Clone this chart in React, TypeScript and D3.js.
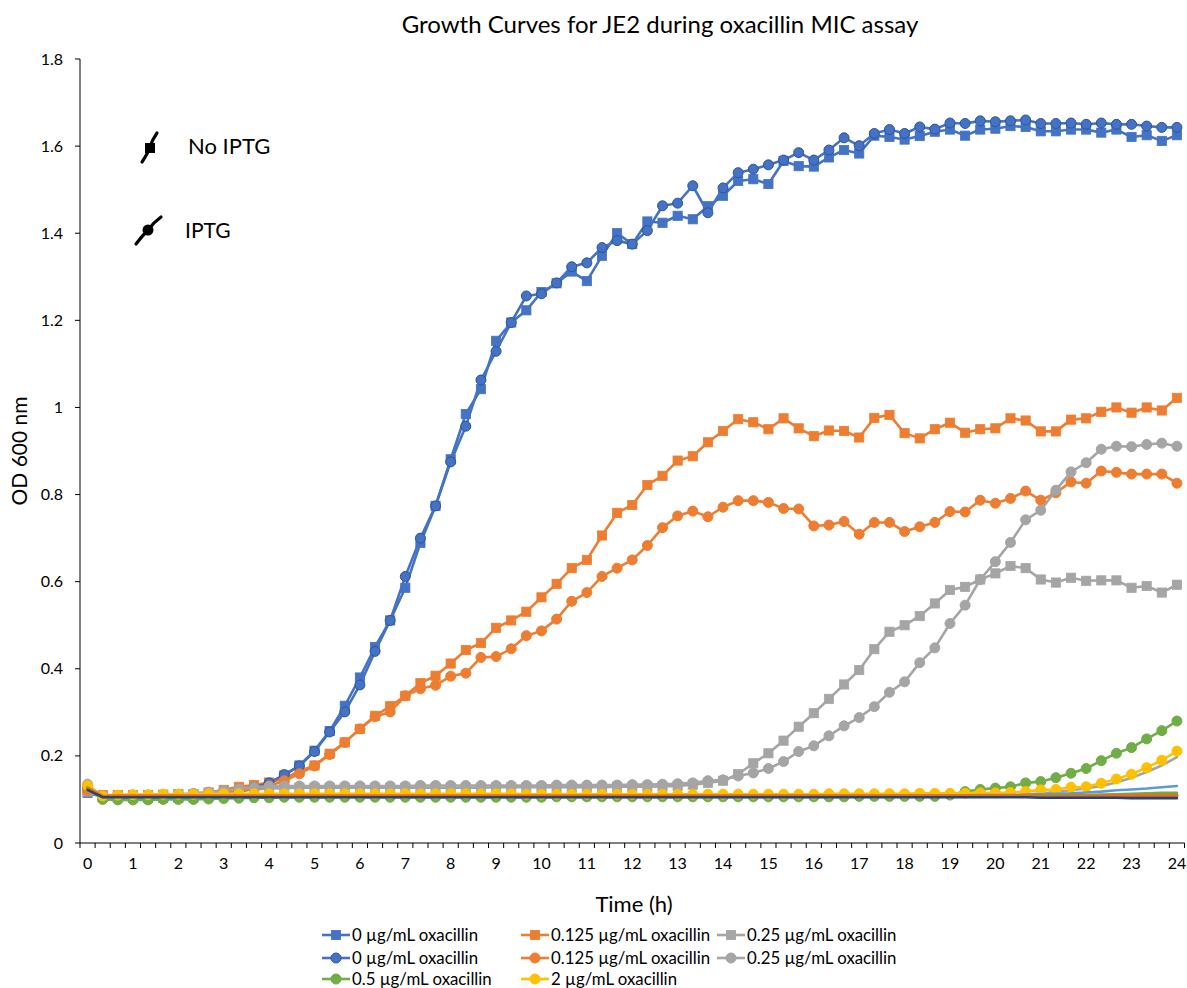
import React from 'react';
import * as d3 from 'd3';

// Time categories in minutes (one reading every 20 minutes, 0–24 h)
const TIME_MIN: number[] = d3.range(0, 1441, 20);
const X_TICK_LABELS = ['0','1','2','3','4','5','6','7','8','9','10','11','12','13','14','15','16','17','18','19','20','21','22','23','24'];
const Y_TICKS = [0, 0.2, 0.4, 0.6, 0.8, 1, 1.2, 1.4, 1.6, 1.8];

// 0 µg/mL, no IPTG (squares)
const BLUE_SQ = [
  0.115, 0.106, 0.105, 0.105, 0.104, 0.104, 0.104, 0.105, 0.107, 0.110,
  0.117, 0.126, 0.136, 0.155, 0.178, 0.212, 0.257, 0.315, 0.380, 0.450,
  0.511, 0.586, 0.689, 0.774, 0.881, 0.985, 1.042, 1.153, 1.195, 1.223,
  1.265, 1.285, 1.312, 1.290, 1.348, 1.400, 1.375, 1.427, 1.424, 1.440,
  1.432, 1.462, 1.486, 1.520, 1.524, 1.513, 1.566, 1.554, 1.553, 1.574,
  1.591, 1.583, 1.624, 1.621, 1.615, 1.623, 1.633, 1.638, 1.624, 1.638,
  1.640, 1.646, 1.644, 1.634, 1.634, 1.638, 1.638, 1.631, 1.638, 1.621,
  1.625, 1.612, 1.625,
];
// 0.125 µg/mL, no IPTG
const ORANGE_SQ = [
  0.120, 0.110, 0.110, 0.110, 0.110, 0.111, 0.112, 0.112, 0.116, 0.122,
  0.129, 0.133, 0.139, 0.148, 0.165, 0.178, 0.205, 0.231, 0.262, 0.292,
  0.314, 0.338, 0.367, 0.384, 0.412, 0.443, 0.459, 0.494, 0.511, 0.531,
  0.564, 0.595, 0.631, 0.650, 0.706, 0.758, 0.776, 0.822, 0.843, 0.878,
  0.888, 0.920, 0.946, 0.973, 0.966, 0.950, 0.975, 0.952, 0.934, 0.947,
  0.946, 0.931, 0.976, 0.983, 0.941, 0.929, 0.950, 0.965, 0.942, 0.950,
  0.952, 0.975, 0.970, 0.945, 0.945, 0.972, 0.975, 0.990, 1.000, 0.988,
  1.000, 0.993, 1.022,
];
// 0.25 µg/mL, no IPTG
const GRAY_SQ = [
  0.118, 0.106, 0.107, 0.108, 0.109, 0.110, 0.111, 0.112, 0.114, 0.117,
  0.120, 0.123, 0.125, 0.126, 0.127, 0.127, 0.127, 0.127, 0.127, 0.127,
  0.127, 0.127, 0.127, 0.127, 0.127, 0.127, 0.127, 0.128, 0.128, 0.128,
  0.128, 0.128, 0.128, 0.128, 0.128, 0.129, 0.129, 0.129, 0.130, 0.131,
  0.134, 0.138, 0.143, 0.158, 0.183, 0.206, 0.235, 0.267, 0.298, 0.331,
  0.364, 0.397, 0.445, 0.485, 0.500, 0.521, 0.550, 0.581, 0.588, 0.605,
  0.619, 0.636, 0.631, 0.605, 0.598, 0.609, 0.602, 0.603, 0.603, 0.586,
  0.590, 0.575, 0.593,
];
// 0 µg/mL, IPTG (circles)
const BLUE_CI = [
  0.128, 0.106, 0.104, 0.104, 0.104, 0.104, 0.105, 0.106, 0.108, 0.111,
  0.118, 0.128, 0.138, 0.157, 0.177, 0.210, 0.255, 0.301, 0.363, 0.440,
  0.511, 0.612, 0.700, 0.774, 0.875, 0.957, 1.063, 1.129, 1.195, 1.256,
  1.261, 1.286, 1.323, 1.332, 1.367, 1.383, 1.375, 1.406, 1.463, 1.469,
  1.509, 1.447, 1.504, 1.539, 1.547, 1.557, 1.568, 1.585, 1.568, 1.591,
  1.619, 1.601, 1.629, 1.638, 1.629, 1.644, 1.639, 1.653, 1.652, 1.658,
  1.656, 1.658, 1.660, 1.652, 1.652, 1.653, 1.650, 1.653, 1.650, 1.650,
  1.646, 1.643, 1.643,
];
// 0.125 µg/mL, IPTG
const ORANGE_CI = [
  0.120, 0.106, 0.107, 0.107, 0.107, 0.107, 0.108, 0.108, 0.110, 0.114,
  0.119, 0.124, 0.131, 0.143, 0.159, 0.177, 0.203, 0.231, 0.262, 0.290,
  0.301, 0.338, 0.354, 0.362, 0.383, 0.390, 0.426, 0.428, 0.446, 0.476,
  0.487, 0.514, 0.555, 0.575, 0.612, 0.631, 0.650, 0.683, 0.724, 0.751,
  0.762, 0.749, 0.771, 0.786, 0.786, 0.782, 0.768, 0.767, 0.728, 0.730,
  0.738, 0.709, 0.736, 0.736, 0.715, 0.726, 0.736, 0.761, 0.760, 0.787,
  0.780, 0.791, 0.808, 0.787, 0.804, 0.829, 0.826, 0.854, 0.851, 0.847,
  0.847, 0.847, 0.826,
];
// 0.25 µg/mL, IPTG
const GRAY_CI = [
  0.135, 0.105, 0.106, 0.107, 0.108, 0.110, 0.112, 0.114, 0.117, 0.120,
  0.124, 0.128, 0.130, 0.131, 0.131, 0.131, 0.131, 0.131, 0.131, 0.131,
  0.131, 0.131, 0.132, 0.132, 0.132, 0.132, 0.132, 0.132, 0.132, 0.132,
  0.132, 0.133, 0.133, 0.133, 0.133, 0.133, 0.134, 0.134, 0.135, 0.136,
  0.138, 0.143, 0.145, 0.154, 0.161, 0.171, 0.187, 0.210, 0.223, 0.246,
  0.269, 0.288, 0.313, 0.346, 0.370, 0.414, 0.448, 0.504, 0.546, 0.605,
  0.646, 0.690, 0.742, 0.764, 0.810, 0.852, 0.873, 0.904, 0.911, 0.910,
  0.915, 0.918, 0.911,
];
// 0.5 µg/mL, IPTG
const GREEN_CI = [
  0.130, 0.100, 0.099, 0.099, 0.099, 0.100, 0.100, 0.100, 0.101, 0.102,
  0.103, 0.104, 0.104, 0.105, 0.105, 0.105, 0.105, 0.105, 0.105, 0.105,
  0.105, 0.105, 0.105, 0.105, 0.105, 0.105, 0.105, 0.105, 0.105, 0.105,
  0.105, 0.106, 0.106, 0.106, 0.106, 0.106, 0.106, 0.106, 0.106, 0.106,
  0.106, 0.106, 0.106, 0.106, 0.106, 0.106, 0.106, 0.106, 0.106, 0.106,
  0.106, 0.107, 0.107, 0.107, 0.107, 0.107, 0.107, 0.110, 0.118, 0.123,
  0.126, 0.129, 0.138, 0.141, 0.150, 0.160, 0.171, 0.189, 0.206, 0.219,
  0.239, 0.258, 0.280,
];
// 2 µg/mL, IPTG
const YELLOW_CI = [
  0.132, 0.108, 0.110, 0.111, 0.111, 0.112, 0.112, 0.112, 0.113, 0.113,
  0.113, 0.113, 0.113, 0.113, 0.113, 0.113, 0.113, 0.113, 0.113, 0.113,
  0.113, 0.113, 0.113, 0.113, 0.113, 0.113, 0.113, 0.113, 0.113, 0.112,
  0.112, 0.112, 0.112, 0.112, 0.112, 0.112, 0.112, 0.112, 0.112, 0.112,
  0.112, 0.112, 0.112, 0.112, 0.112, 0.112, 0.112, 0.112, 0.112, 0.113,
  0.113, 0.113, 0.113, 0.113, 0.113, 0.114, 0.114, 0.114, 0.114, 0.115,
  0.115, 0.116, 0.118, 0.122, 0.123, 0.128, 0.129, 0.137, 0.147, 0.158,
  0.173, 0.190, 0.211,
];
// Series without markers (legend entries removed in the original)
const GRAY_LINE = [
  0.127, 0.106, 0.106, 0.106, 0.106, 0.106, 0.106, 0.106, 0.106, 0.106,
  0.106, 0.106, 0.106, 0.106, 0.106, 0.106, 0.106, 0.106, 0.106, 0.106,
  0.106, 0.106, 0.106, 0.106, 0.106, 0.106, 0.106, 0.106, 0.106, 0.106,
  0.106, 0.106, 0.106, 0.106, 0.106, 0.106, 0.106, 0.106, 0.106, 0.106,
  0.107, 0.107, 0.107, 0.107, 0.107, 0.107, 0.107, 0.107, 0.107, 0.107,
  0.107, 0.107, 0.107, 0.107, 0.107, 0.107, 0.107, 0.107, 0.107, 0.108,
  0.108, 0.109, 0.111, 0.114, 0.117, 0.121, 0.125, 0.131, 0.139, 0.150,
  0.163, 0.178, 0.197,
];
const LIGHTBLUE_LINE = [
  0.125, 0.106, 0.107, 0.107, 0.107, 0.107, 0.107, 0.107, 0.107, 0.107,
  0.107, 0.107, 0.107, 0.107, 0.107, 0.107, 0.107, 0.107, 0.107, 0.107,
  0.107, 0.107, 0.107, 0.107, 0.107, 0.107, 0.107, 0.107, 0.107, 0.107,
  0.107, 0.107, 0.107, 0.107, 0.107, 0.107, 0.107, 0.107, 0.107, 0.107,
  0.108, 0.108, 0.108, 0.108, 0.108, 0.108, 0.108, 0.108, 0.108, 0.108,
  0.108, 0.108, 0.108, 0.108, 0.109, 0.109, 0.109, 0.109, 0.109, 0.110,
  0.110, 0.110, 0.111, 0.112, 0.113, 0.114, 0.116, 0.118, 0.121, 0.123,
  0.125, 0.128, 0.131,
];
const GREEN_LINE = [
  0.128, 0.106, 0.107, 0.107, 0.107, 0.107, 0.107, 0.107, 0.107, 0.107,
  0.107, 0.107, 0.107, 0.107, 0.107, 0.107, 0.107, 0.107, 0.107, 0.107,
  0.107, 0.107, 0.107, 0.107, 0.107, 0.107, 0.107, 0.107, 0.107, 0.107,
  0.107, 0.107, 0.107, 0.107, 0.107, 0.107, 0.107, 0.107, 0.107, 0.107,
  0.108, 0.108, 0.108, 0.108, 0.108, 0.108, 0.108, 0.108, 0.108, 0.108,
  0.108, 0.108, 0.108, 0.108, 0.108, 0.108, 0.108, 0.108, 0.108, 0.108,
  0.109, 0.109, 0.109, 0.109, 0.109, 0.110, 0.110, 0.111, 0.112, 0.113,
  0.114, 0.115, 0.115,
];
const ORANGE_LINE = [
  0.125, 0.107, 0.108, 0.108, 0.108, 0.108, 0.108, 0.108, 0.108, 0.108,
  0.108, 0.108, 0.108, 0.108, 0.108, 0.108, 0.108, 0.108, 0.108, 0.108,
  0.108, 0.108, 0.108, 0.108, 0.108, 0.108, 0.108, 0.108, 0.108, 0.108,
  0.108, 0.108, 0.108, 0.108, 0.108, 0.108, 0.108, 0.108, 0.108, 0.108,
  0.108, 0.108, 0.108, 0.108, 0.108, 0.108, 0.108, 0.108, 0.108, 0.108,
  0.108, 0.108, 0.108, 0.108, 0.108, 0.108, 0.108, 0.108, 0.108, 0.108,
  0.108, 0.108, 0.108, 0.107, 0.107, 0.108, 0.108, 0.108, 0.109, 0.109,
  0.109, 0.109, 0.109,
];
const DARKBLUE_LINE = [
  0.122, 0.105, 0.105, 0.105, 0.105, 0.105, 0.105, 0.105, 0.105, 0.105,
  0.105, 0.105, 0.105, 0.105, 0.105, 0.105, 0.105, 0.105, 0.105, 0.105,
  0.105, 0.105, 0.105, 0.105, 0.105, 0.105, 0.105, 0.105, 0.105, 0.105,
  0.105, 0.105, 0.105, 0.105, 0.105, 0.105, 0.105, 0.105, 0.105, 0.105,
  0.105, 0.105, 0.105, 0.105, 0.105, 0.105, 0.105, 0.105, 0.105, 0.105,
  0.105, 0.105, 0.105, 0.105, 0.105, 0.105, 0.105, 0.105, 0.105, 0.105,
  0.105, 0.105, 0.105, 0.104, 0.104, 0.104, 0.104, 0.104, 0.104, 0.103,
  0.103, 0.103, 0.103,
];

const LEGEND_LABELS = [
  '0 µg/mL oxacillin', '0.125 µg/mL oxacillin', '0.25 µg/mL oxacillin',
  '0 µg/mL oxacillin', '0.125 µg/mL oxacillin', '0.25 µg/mL oxacillin',
  '0.5 µg/mL oxacillin', '2 µg/mL oxacillin',
];

type Series = { values: number[]; color: string; marker: 'square' | 'circle' | 'none'; width: number; stroke?: string; legend?: number };

const MARKED: Series[] = [
  { values: BLUE_SQ, color: '#4472C4', marker: 'square', width: 2.6, legend: 0 },
  { values: ORANGE_SQ, color: '#ED7D31', marker: 'square', width: 2.6, legend: 1 },
  { values: GRAY_SQ, color: '#A5A5A5', marker: 'square', width: 2.6, legend: 2 },
  { values: BLUE_CI, color: '#4472C4', marker: 'circle', width: 2.6, stroke: '#2F5597', legend: 3 },
  { values: ORANGE_CI, color: '#ED7D31', marker: 'circle', width: 2.6, legend: 4 },
  { values: GRAY_CI, color: '#A5A5A5', marker: 'circle', width: 2.6, legend: 5 },
  { values: GREEN_CI, color: '#70AD47', marker: 'circle', width: 2.6, legend: 6 },
  { values: YELLOW_CI, color: '#FFC000', marker: 'circle', width: 2.6, legend: 7 },
];
const UNDER: Series[] = [
  { values: GRAY_LINE, color: '#A5A5A5', marker: 'none', width: 2.6 },
];
const OVER: Series[] = [
  { values: LIGHTBLUE_LINE, color: '#5B9BD5', marker: 'none', width: 2.6 },
  { values: GREEN_LINE, color: '#70AD47', marker: 'none', width: 2.6 },
  { values: ORANGE_LINE, color: '#E36F1E', marker: 'none', width: 3.5 },
  { values: DARKBLUE_LINE, color: '#264478', marker: 'none', width: 2.6 },
];

const FONT = 'Lato, "Open Sans", sans-serif';

const PLOT = { left: 80, right: 1184.5, top: 59, bottom: 843 };

function Marker({ type, cx, cy, color, stroke }: { type: string; cx: number; cy: number; color: string; stroke?: string }) {
  if (type === 'square') {
    return <rect x={cx - 4.6} y={cy - 4.6} width={9.2} height={9.2} fill={color} stroke={stroke || color} strokeWidth={0.8} />;
  }
  if (type === 'circle') {
    return <circle cx={cx} cy={cy} r={5} fill={color} stroke={stroke || color} strokeWidth={1} />;
  }
  return null;
}

export default function App() {
  const n = TIME_MIN.length;
  const x = d3.scaleLinear().domain([-0.5, n - 0.5]).range([PLOT.left, PLOT.right]);
  const y = d3.scaleLinear().domain([0, 1.8]).range([PLOT.bottom, PLOT.top]);
  const line = d3.line<number>().x((_, i) => x(i)).y((d) => y(d));

  const renderSeries = (s: Series, key: string) => (
    <g key={key}>
      <path d={line(s.values) || ''} fill="none" stroke={s.color} strokeWidth={s.width} strokeLinejoin="round" strokeLinecap="round" />
      {s.marker !== 'none' &&
        s.values.map((v, i) => <Marker key={i} type={s.marker} cx={x(i)} cy={y(v)} color={s.color} stroke={s.stroke} />)}
    </g>
  );

  const boundaries = d3.range(0, n + 1);
  const legendCols = [322, 521, 717];
  const legendRows = [935, 958, 979];

  return (
    <svg width={1187} height={988} style={{ position: 'absolute', left: 0, top: 0, background: '#fff' }} fontFamily={FONT}>
      <rect x={0} y={0} width={1187} height={988} fill="#fff" />
      <text x={660} y={33} textAnchor="middle" fontSize={24} fill="#000">Growth Curves for JE2 during oxacillin MIC assay</text>

      {/* y axis */}
      <line x1={PLOT.left} x2={PLOT.left} y1={PLOT.top} y2={PLOT.bottom} stroke="#000" strokeWidth={1} />
      {Y_TICKS.map((t) => (
        <g key={t}>
          <line x1={PLOT.left - 5} x2={PLOT.left} y1={y(t)} y2={y(t)} stroke="#000" />
          <text x={63} y={y(t)} dy="0.35em" textAnchor="end" fontSize={16} fill="#000">{String(t)}</text>
        </g>
      ))}
      <text transform={`translate(27,${(PLOT.top + PLOT.bottom) / 2}) rotate(-90)`} textAnchor="middle" fontSize={21} fill="#000">OD 600 nm</text>

      {/* x axis */}
      <line x1={PLOT.left} x2={PLOT.right} y1={PLOT.bottom} y2={PLOT.bottom} stroke="#000" strokeWidth={1} />
      {boundaries.map((b) => (
        <line key={b} x1={x(b - 0.5)} x2={x(b - 0.5)} y1={PLOT.bottom} y2={PLOT.bottom + 5} stroke="#000" />
      ))}
      {X_TICK_LABELS.map((lab, k) => (
        <text key={lab} x={x(k * 3)} y={869} textAnchor="middle" fontSize={16} fill="#000">{lab}</text>
      ))}
      <text x={634} y={912} textAnchor="middle" fontSize={22} fill="#000">Time (h)</text>

      {UNDER.map((s, i) => renderSeries(s, 'u' + i))}
      {MARKED.map((s, i) => renderSeries(s, 'm' + i))}
      {OVER.map((s, i) => renderSeries(s, 'o' + i))}

      {/* inset key */}
      <path d="M142,162 Q148,153 150,147 Q152,140 157,133" fill="none" stroke="#000" strokeWidth={3.2} strokeLinecap="round" />
      <rect x={145} y={143} width={10} height={10} fill="#000" />
      <text x={188} y={154} fontSize={22} fill="#000">No IPTG</text>
      <path d="M136,244 Q142,236 148,230 Q154,222 161,217" fill="none" stroke="#000" strokeWidth={3.2} strokeLinecap="round" />
      <circle cx={148} cy={230} r={5.5} fill="#000" />
      <text x={185} y={238} fontSize={21} fill="#000">IPTG</text>

      {/* legend */}
      {MARKED.map((s, i) => {
        const col = (s.legend as number) % 3;
        const row = Math.floor((s.legend as number) / 3);
        const lx = legendCols[col];
        const ly = legendRows[row];
        return (
          <g key={'l' + i}>
            <line x1={lx} x2={lx + 28} y1={ly} y2={ly} stroke={s.color} strokeWidth={2.6} />
            <Marker type={s.marker} cx={lx + 14} cy={ly} color={s.color} stroke={s.stroke} />
            <text x={lx + 30} y={ly} dy="0.35em" fontSize={16.8} fill="#000">{LEGEND_LABELS[s.legend as number]}</text>
          </g>
        );
      })}
    </svg>
  );
}
